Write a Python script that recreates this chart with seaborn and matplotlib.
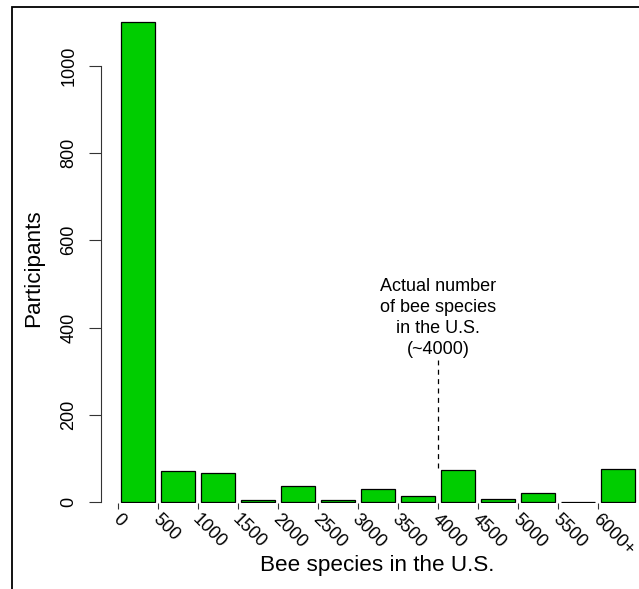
import matplotlib
matplotlib.use('Agg')
import matplotlib.pyplot as plt
import matplotlib.transforms as mtransforms
from matplotlib.patches import Rectangle
import seaborn as sns
import pandas as pd
import numpy as np

# bin labels (left edge of each bar) and counts
bin_labels = ['0', '500', '1000', '1500', '2000', '2500', '3000',
              '3500', '4000', '4500', '5000', '5500', '6000+']
participants = [1100, 71, 67, 5, 36, 4, 29, 13, 73, 8, 21, 1, 75]
y_ticks = [0, 200, 400, 600, 800, 1000]
actual_bin = 8  # bar that starts at 4000

sns.set_style('white')
plt.rcParams['font.family'] = ['Liberation Sans', 'DejaVu Sans']
plt.rcParams['text.color'] = 'black'
plt.rcParams['xtick.color'] = 'black'
plt.rcParams['ytick.color'] = 'black'

df = pd.DataFrame({'bin': bin_labels, 'participants': participants})

W, H = 639, 589
fig = plt.figure(figsize=(W / 100, H / 100), dpi=100)
ax = fig.add_axes([101 / W, (H - 503) / H, (W - 101) / W, (503 - 10) / H])

sns.barplot(data=df, x='bin', y='participants', color='#00CD00', saturation=1,
            width=0.833, edgecolor='black', linewidth=0.9, errorbar=None, ax=ax)

ax.set_xlim(-0.925, 12.525)
ax.set_ylim(-2.3, 1128)

for s in ['top', 'right', 'bottom']:
    ax.spines[s].set_visible(False)
ax.spines['left'].set_bounds(0, 1000)
ax.spines['left'].set_color('#333333')
ax.spines['left'].set_linewidth(0.8)

ax.set_yticks(y_ticks)
ax.tick_params(axis='y', direction='out', length=8.5, width=0.8, color='#333333',
               pad=8.5, labelsize=13, labelrotation=90, left=True)
for lbl in ax.get_yticklabels():
    lbl.set_va('center')

ax.set_xticks(np.arange(len(bin_labels)) - 0.5, bin_labels)
ax.tick_params(axis='x', direction='out', length=4.3, width=0.8, color='#333333',
               pad=6, labelsize=13, bottom=True)
shift = mtransforms.ScaledTranslation(-3 / 100, 0, fig.dpi_scale_trans)
for lbl in ax.get_xticklabels():
    lbl.set_rotation(-45)
    lbl.set_ha('left')
    lbl.set_va('center')
    lbl.set_rotation_mode('anchor')
    lbl.set_transform(lbl.get_transform() + shift)

ax.set_xlabel('')
ax.set_ylabel('')
fig.text(377 / W, 1 - 565 / H, 'Bee species in the U.S.', ha='center', va='center', fontsize=16.2)
fig.text(34 / W, 1 - 268 / H, 'Participants', ha='center', va='center', rotation=90, fontsize=16.2)

# marker for the real number of species
x_line = actual_bin - 0.5
ax.plot([x_line, x_line], [participants[actual_bin] + 5, 326], color='black',
        lw=0.9, ls=(0, (4, 3.5)))
ax.text(x_line, 330, 'Actual number\nof bee species\nin the U.S.\n(~4000)',
        ha='center', va='bottom', multialignment='center', fontsize=13, linespacing=1.3)

fig.add_artist(Rectangle((12 / W, -0.5), 2, 1 - 7 / H + 0.5, transform=fig.transFigure,
                         fill=False, ec='black', lw=1.3, clip_on=False))

fig.savefig('out.png', dpi=100)
